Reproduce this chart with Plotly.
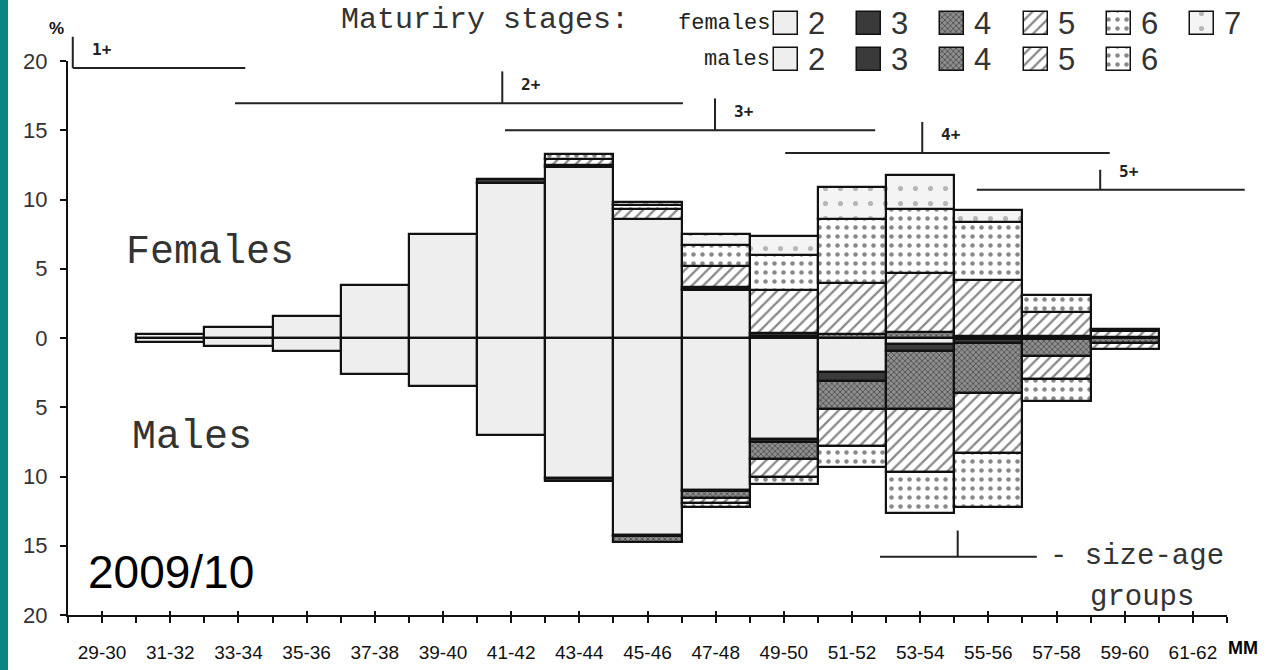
import plotly.graph_objects as go

W, H = 1288, 670

# ---------------- data ----------------
size_classes = ["29-30", "31-32", "33-34", "35-36", "37-38", "39-40", "41-42", "43-44",
                "45-46", "47-48", "49-50", "51-52", "53-54", "55-56", "57-58", "59-60", "61-62"]
bar_classes = ["31-32", "33-34", "35-36", "37-38", "39-40", "41-42", "43-44", "45-46",
               "47-48", "49-50", "51-52", "53-54", "55-56", "57-58", "59-60"]

# females, % by maturity stage (stacked upward)
fem_st2 = [0.3, 0.8, 1.6, 3.8, 7.5, 11.2, 12.35, 8.6, 3.43, 0.15, 0, 0, 0, 0, 0]
fem_st3 = [0, 0, 0, 0, 0, 0.25, 0.15, 0, 0.1, 0.2, 0, 0, 0, 0, 0]
fem_st4 = [0, 0, 0, 0, 0, 0, 0, 0, 0.15, 0, 0.3, 0.42, 0.18, 0.18, 0.1]
fem_st5 = [0, 0, 0, 0, 0, 0, 0.4, 0.7, 1.5, 3.15, 3.65, 4.24, 3.98, 1.69, 0.4]
fem_st6 = [0, 0, 0, 0, 0, 0, 0.35, 0.3, 1.5, 2.47, 4.62, 4.68, 4.21, 1.2, 0.15]
fem_st7 = [0, 0, 0, 0, 0, 0, 0, 0.25, 0.8, 1.37, 2.33, 2.41, 0.85, 0, 0]

# males, % by maturity stage (stacked downward)
mal_st2 = [0.3, 0.6, 0.95, 2.6, 3.45, 6.98, 10.1, 14.2, 10.98, 7.29, 2.47, 0.4, 0.1, 0, 0]
mal_st3 = [0, 0, 0, 0, 0, 0, 0.25, 0.1, 0.1, 0.25, 0.6, 0.55, 0.28, 0.1, 0]
mal_st4 = [0, 0, 0, 0, 0, 0, 0, 0.45, 0.45, 1.2, 2.05, 4.17, 3.61, 1.17, 0.35]
mal_st5 = [0, 0, 0, 0, 0, 0, 0, 0, 0.35, 1.3, 2.65, 4.58, 4.34, 1.68, 0.45]
mal_st6 = [0, 0, 0, 0, 0, 0, 0, 0, 0.3, 0.5, 1.52, 2.9, 3.85, 1.62, 0]

stages_f = ["2", "3", "4", "5", "6", "7"]
stages_m = ["2", "3", "4", "5", "6"]

y_ticks = [-20, -15, -10, -5, 0, 5, 10, 15, 20]

# size-age groups (span in size-class units, level in %)
group_labels = ["1+", "2+", "3+", "4+", "5+"]
group_x0 = [-0.43, 1.95, 5.91, 10.02, 12.83]
group_x1 = [2.10, 8.52, 11.34, 14.78, 16.76]
group_mid = [-0.43, 5.87, 8.99, 12.03, 14.64]
group_y = [19.5, 16.95, 15.0, 13.35, 10.7]
group_rise = [2.25, 2.3, 2.3, 2.25, 1.45]

# ---------------- styles ----------------
LINE = dict(color="#111111", width=2.2)
styles = {
    "2": dict(color="#eeeeee", pattern=dict(shape="")),
    "3": dict(color="#3a3a3a", pattern=dict(shape="")),
    "4": dict(color="#8e8e8e", pattern=dict(shape="x", fgcolor="#111111", size=4,
                                             solidity=0.4, fillmode="overlay")),
    "5": dict(color="#ffffff", pattern=dict(shape="/", fgcolor="#111111", size=8,
                                             solidity=0.28, fillmode="overlay")),
    "6": dict(color="#ffffff", pattern=dict(shape=".", fgcolor="#111111", size=9,
                                             solidity=0.2, fillmode="overlay")),
    "7": dict(color="#f4f4f4", pattern=dict(shape=".", fgcolor="#777777", size=15,
                                             solidity=0.09, fillmode="overlay")),
}

fem = {"2": fem_st2, "3": fem_st3, "4": fem_st4, "5": fem_st5, "6": fem_st6, "7": fem_st7}
mal = {"2": mal_st2, "3": mal_st3, "4": mal_st4, "5": mal_st5, "6": mal_st6}

xpos = [size_classes.index(c) for c in bar_classes]

fig = go.Figure()

for s in stages_f:
    fig.add_trace(go.Bar(
        x=xpos, y=[v if v > 0 else None for v in fem[s]], width=1.0,
        marker=dict(color=styles[s]["color"], pattern=styles[s]["pattern"], line=LINE),
        name="females " + s, hoverinfo="skip"))
for s in stages_m:
    fig.add_trace(go.Bar(
        x=xpos, y=[-v if v > 0 else None for v in mal[s]], width=1.0,
        marker=dict(color=styles[s]["color"], pattern=styles[s]["pattern"], line=LINE),
        name="males " + s, hoverinfo="skip"))

# empty trace so the overlay axis (crossing ticks) is drawn
fig.add_trace(go.Scatter(x=[None], y=[None], xaxis="x2", yaxis="y", showlegend=False,
                         hoverinfo="skip"))

# legend swatches
for i, s in enumerate(stages_f):
    xs, bases = [i], [1.19]
    if s in stages_m:
        xs.append(i)
        bases.append(0.19)
    fig.add_trace(go.Bar(
        x=xs, y=[0.64] * len(xs), base=bases, width=0.29, xaxis="x3", yaxis="y3",
        marker=dict(color=styles[s]["color"], pattern=styles[s]["pattern"],
                    line=dict(color="#111111", width=1.5)),
        hoverinfo="skip", showlegend=False))

# ---------------- layout ----------------
PX0, PX1 = 68, 1227
PY_TOP, PY_BOT = 61, 615


def xp(v):
    return (PX0 + (v + 0.5) / 17 * (PX1 - PX0)) / W


def yp(v):
    pix = PY_BOT - (v + 20) / 40 * (PY_BOT - PY_TOP)
    return (H - pix) / H


tickvals = [-0.5 + 0.5 * i for i in range(35)]
ticktext = [size_classes[int(v)] if float(v).is_integer() else "" for v in tickvals]
label_ticks = list(range(len(size_classes)))

shapes = [dict(type="rect", xref="paper", yref="paper", x0=0, x1=8 / W, y0=0, y1=1,
               fillcolor="#0a8782", line=dict(width=0))]
annotations = []
for lab, a, b, m, gy, rise in zip(group_labels, group_x0, group_x1, group_mid, group_y, group_rise):
    shapes.append(dict(type="line", xref="paper", yref="paper", x0=xp(a), x1=xp(b),
                       y0=yp(gy), y1=yp(gy), line=dict(color="#222222", width=2)))
    shapes.append(dict(type="line", xref="paper", yref="paper", x0=xp(m), x1=xp(m),
                       y0=yp(gy), y1=yp(gy + rise), line=dict(color="#222222", width=2)))
    annotations.append(dict(xref="paper", yref="paper", x=xp(m + 0.25), y=yp(gy + 1.35),
                            text="<b>" + lab + "</b>", showarrow=False, xanchor="left",
                            yanchor="middle",
                            font=dict(family="DejaVu Sans Mono", size=16, color="#222222")))

# legend for size-age groups
shapes.append(dict(type="line", xref="paper", yref="paper", x0=xp(11.41), x1=xp(13.71),
                   y0=yp(-15.8), y1=yp(-15.8), line=dict(color="#222222", width=2)))
shapes.append(dict(type="line", xref="paper", yref="paper", x0=xp(12.55), x1=xp(12.55),
                   y0=yp(-15.8), y1=yp(-13.9), line=dict(color="#222222", width=2)))

mono = "Liberation Mono, Courier New, monospace"
sans = "Liberation Sans, Arial, sans-serif"

annotations += [
    dict(xref="paper", yref="paper", x=1048 / W, y=(H - 556) / H, text="- size-age",
         showarrow=False, xanchor="left", yanchor="middle",
         font=dict(family=mono, size=29, color="#333333")),
    dict(xref="paper", yref="paper", x=1088 / W, y=(H - 597) / H, text="groups",
         showarrow=False, xanchor="left", yanchor="middle",
         font=dict(family=mono, size=29, color="#333333")),
    dict(xref="paper", yref="paper", x=485 / W, y=(H - 20) / H, text="Maturiry stages:",
         showarrow=False, xanchor="center", yanchor="middle",
         font=dict(family=mono, size=30, color="#333333")),
    dict(xref="x3", yref="y3", x=-0.17, y=1.5, text="females", showarrow=False,
         xanchor="right", yanchor="middle", font=dict(family=mono, size=22, color="#222222")),
    dict(xref="x3", yref="y3", x=-0.17, y=0.5, text="males", showarrow=False,
         xanchor="right", yanchor="middle", font=dict(family=mono, size=22, color="#222222")),
    dict(xref="paper", yref="paper", x=210 / W, y=(H - 252) / H, text="Females",
         showarrow=False, xanchor="center", yanchor="middle",
         font=dict(family=mono, size=40, color="#333333")),
    dict(xref="paper", yref="paper", x=192 / W, y=(H - 437) / H, text="Males",
         showarrow=False, xanchor="center", yanchor="middle",
         font=dict(family=mono, size=40, color="#333333")),
    dict(xref="paper", yref="paper", x=171 / W, y=(H - 572) / H, text="2009/10",
         showarrow=False, xanchor="center", yanchor="middle",
         font=dict(family=sans, size=46, color="#000000")),
    dict(xref="paper", yref="paper", x=56 / W, y=(H - 29) / H, text="<b>%</b>",
         showarrow=False, xanchor="center", yanchor="middle",
         font=dict(family=sans, size=17, color="#111111")),
    dict(xref="paper", yref="paper", x=1243 / W, y=(H - 648) / H, text="<b>MM</b>",
         showarrow=False, xanchor="center", yanchor="middle",
         font=dict(family=sans, size=18, color="#000000")),
]
for i, s in enumerate(stages_f):
    annotations.append(dict(xref="x3", yref="y3", x=i + 0.24, y=1.5, text=s, showarrow=False,
                            xanchor="left", yanchor="middle",
                            font=dict(family=sans, size=31, color="#333333")))
for i, s in enumerate(stages_m):
    annotations.append(dict(xref="x3", yref="y3", x=i + 0.24, y=0.5, text=s, showarrow=False,
                            xanchor="left", yanchor="middle",
                            font=dict(family=sans, size=31, color="#333333")))

fig.update_layout(
    template="none",
    width=W, height=H,
    margin=dict(l=0, r=0, t=0, b=0),
    paper_bgcolor="white", plot_bgcolor="rgba(0,0,0,0)",
    barmode="relative", bargap=0,
    showlegend=False,
    xaxis=dict(domain=[PX0 / W, PX1 / W], range=[-0.5, 16.5], anchor="y",
               tickmode="array", tickvals=tickvals, ticktext=ticktext,
               ticks="outside", ticklen=6, tickwidth=1.5, tickcolor="#111111",
               showline=True, linecolor="#111111", linewidth=2,
               showgrid=False, zeroline=False, automargin=False,
               ticklabelstandoff=13,
               tickfont=dict(family=sans, size=19, color="#111111")),
    xaxis2=dict(overlaying="x", anchor="y", range=[-0.5, 16.5],
                tickmode="array", tickvals=label_ticks, ticks="inside", ticklen=4,
                tickwidth=1.5, tickcolor="#111111", showticklabels=False,
                showline=False, showgrid=False, zeroline=False, automargin=False),
    yaxis=dict(domain=[(H - PY_BOT) / H, (H - PY_TOP) / H], range=[-20, 20], anchor="x",
               tickmode="array", tickvals=y_ticks, ticktext=[str(abs(v)) for v in y_ticks],
               ticks="outside", ticklen=6, tickwidth=1.5, tickcolor="#111111",
               showline=True, linecolor="#111111", linewidth=2,
               showgrid=False, zeroline=False, automargin=False,
               ticklabelstandoff=8,
               tickfont=dict(family=sans, size=22, color="#333333")),
    xaxis3=dict(domain=[744 / W, 1244 / W], range=[-0.5, 5.5], anchor="y3", visible=False,
                fixedrange=True),
    yaxis3=dict(domain=[(H - 78) / H, (H - 6) / H], range=[0, 2], anchor="x3", visible=False,
                fixedrange=True),
    shapes=shapes,
    annotations=annotations,
)

fig.write_html("out.html")
